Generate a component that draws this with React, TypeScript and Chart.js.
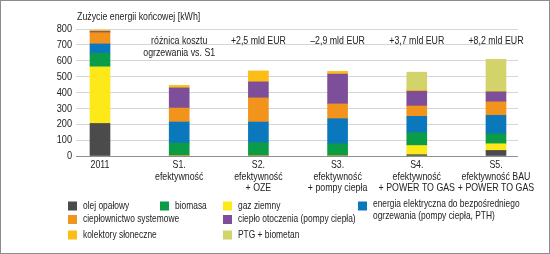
import React, { useEffect, useRef } from "react";
import { Chart, registerables } from "chart.js";

Chart.register(...registerables);

const categories: string[][] = [
  ["2011"],
  ["S1.", "efektywność"],
  ["S2.", "efektywność", "+ OZE"],
  ["S3.", "efektywność", "+ pompy ciepła"],
  ["S4.", "efektywność", "+ POWER TO GAS"],
  ["S5.", "efektywność BAU", "+ POWER TO GAS"],
];

const costNotes: string[][] = [
  [],
  ["różnica kosztu", "ogrzewania vs. S1"],
  ["+2,5 mld EUR"],
  ["–2,9 mld EUR"],
  ["+3,7 mld EUR"],
  ["+8,2 mld EUR"],
];

const chartTitle = "Zużycie energii końcowej [kWh]";

const olejOpalowy = [205, 0, 0, 0, 8, 35];
const gazZiemny = [357, 4, 3, 3, 58, 42];
const biomasa = [85, 78, 81, 74, 81, 63];
const energiaElektryczna = [59, 132, 130, 158, 103, 116];
const cieplownictwo = [71, 88, 152, 93, 65, 85];
const cieploOtoczenia = [8, 127, 101, 188, 93, 63];
const kolektory = [8, 15, 68, 17, 8, 3];
const ptgBiometan = [0, 0, 0, 0, 112, 202];

const yTicks = [0, 100, 200, 300, 400, 500, 600, 700, 800];

const FONT = "'Liberation Sans', Arial, sans-serif";
const SQUEEZE = 0.8;

const series = [
  { label: "olej opałowy", data: olejOpalowy, color: "#4b4b4b" },
  { label: "gaz ziemny", data: gazZiemny, color: "#fde81a" },
  { label: "biomasa", data: biomasa, color: "#0b9c48" },
  { label: "energia elektryczna do bezpośredniego ogrzewania (pompy ciepła, PTH)", data: energiaElektryczna, color: "#0b78bd" },
  { label: "ciepłownictwo systemowe", data: cieplownictwo, color: "#f2931b" },
  { label: "ciepło otoczenia (pompy ciepła)", data: cieploOtoczenia, color: "#7d4f9a" },
  { label: "kolektory słoneczne", data: kolektory, color: "#fbbd16" },
  { label: "PTG + biometan", data: ptgBiometan, color: "#d2d46b" },
];

const legendItems: { idx: number; col: number; row: number; lines: string[] }[] = [
  { idx: 0, col: 0, row: 0, lines: ["olej opałowy"] },
  { idx: 2, col: 1, row: 0, lines: ["biomasa"] },
  { idx: 1, col: 2, row: 0, lines: ["gaz ziemny"] },
  { idx: 3, col: 3, row: 0, lines: ["energia elektryczna do bezpośredniego", "ogrzewania (pompy ciepła, PTH)"] },
  { idx: 4, col: 0, row: 1, lines: ["ciepłownictwo systemowe"] },
  { idx: 5, col: 2, row: 1, lines: ["ciepło otoczenia (pompy ciepła)"] },
  { idx: 6, col: 0, row: 2, lines: ["kolektory słoneczne"] },
  { idx: 7, col: 2, row: 2, lines: ["PTG + biometan"] },
];

const legendColX = [68, 160, 223, 358];
const legendRowY = [206, 219.5, 235];

const decorPlugin = {
  id: "decor",
  beforeDraw(chart: any) {
    const ctx = chart.ctx as any;
    if (!ctx.__origFillText) {
      const orig = ctx.fillText;
      ctx.__origFillText = orig;
      ctx.fillText = function (text: string, x: number, y: number, maxW?: number) {
        this.save();
        this.translate(x, y);
        this.scale(SQUEEZE, 1);
        if (maxW === undefined) orig.call(this, text, 0, 0);
        else orig.call(this, text, 0, 0, maxW / SQUEEZE);
        this.restore();
      };
    }
  },
  afterDraw(chart: any) {
    const ctx = chart.ctx as any;
    const xs = chart.scales.x;
    ctx.save();
    ctx.fillStyle = "#222";
    ctx.font = `11px ${FONT}`;
    ctx.textBaseline = "middle";
    ctx.textAlign = "left";
    ctx.fillText(chartTitle, 77, 16.5);

    ctx.textAlign = "center";
    costNotes.forEach((lines, i) => {
      const x = xs.getPixelForValue(i);
      lines.forEach((t, j) => ctx.fillText(t, x, 40.5 + j * 12.5));
    });

    ctx.textAlign = "left";
    ctx.font = `10.5px ${FONT}`;
    legendItems.forEach((it) => {
      const x = legendColX[it.col];
      const y = legendRowY[it.row];
      ctx.fillStyle = series[it.idx].color;
      ctx.fillRect(x, y - 4.5, 9, 9);
      ctx.fillStyle = "#222";
      it.lines.forEach((t, j) => {
        const ly = it.lines.length > 1 ? y - 1.5 + j * 11.5 : y;
        ctx.fillText(t, x + 15, ly);
      });
    });

    ctx.strokeStyle = "#8c8c8c";
    ctx.lineWidth = 1;
    ctx.strokeRect(0.5, 0.5, 549, 253);
    ctx.restore();
    if (ctx.__origFillText) {
      ctx.fillText = ctx.__origFillText;
      delete ctx.__origFillText;
    }
  },
};

export default function App() {
  const ref = useRef<HTMLCanvasElement>(null);
  useEffect(() => {
    const canvas = ref.current!;
    const chart = new Chart(canvas, {
      type: "bar",
      data: {
        datasets: series.map((s) => ({
          label: s.label,
          data: s.data.map((v, i) => ({ x: i, y: v })),
          backgroundColor: s.color,
          borderWidth: 0,
          barThickness: 20,
        })),
      },
      options: {
        responsive: false,
        animation: false,
        layout: { padding: { left: 0, right: 32, top: 29, bottom: 0 } },
        plugins: { legend: { display: false }, tooltip: { enabled: false }, title: { display: false } },
        scales: {
          x: {
            type: "linear",
            stacked: true,
            offset: false,
            min: -0.303,
            max: 5.278,
            grid: { display: false, drawTicks: false, offset: false },
            border: { display: false },
            afterBuildTicks: (scale: any) => {
              scale.ticks = categories.map((_, i) => ({ value: i }));
            },
            afterFit: (scale: any) => {
              scale.height = 98;
            },
            ticks: {
              autoSkip: false,
              maxRotation: 0,
              padding: 3,
              color: "#222",
              font: { family: FONT, size: 11, lineHeight: 1.06 },
              callback: (v: any) => categories[Math.round(Number(v))] ?? "",
            },
          },
          y: {
            stacked: true,
            min: 0,
            max: 800,
            grid: {
              drawTicks: false,
              color: (c: any) => (c.tick && c.tick.value === 0 ? "#8f8f8f" : "#d6d6d6"),
              lineWidth: 1,
            },
            border: { display: false },
            afterBuildTicks: (scale: any) => {
              scale.ticks = yTicks.map((v) => ({ value: v }));
            },
            afterFit: (scale: any) => {
              scale.width = 76;
            },
            ticks: {
              autoSkip: false,
              padding: 4,
              color: "#222",
              font: { family: FONT, size: 11.5 },
            },
          },
        },
      },
      plugins: [decorPlugin],
    });
    return () => chart.destroy();
  }, []);
  return (
    <div style={{ position: "fixed", left: 0, top: 0, width: 550, height: 254, background: "#fff" }}>
      <canvas ref={ref} width={550} height={254} style={{ display: "block" }} />
    </div>
  );
}
